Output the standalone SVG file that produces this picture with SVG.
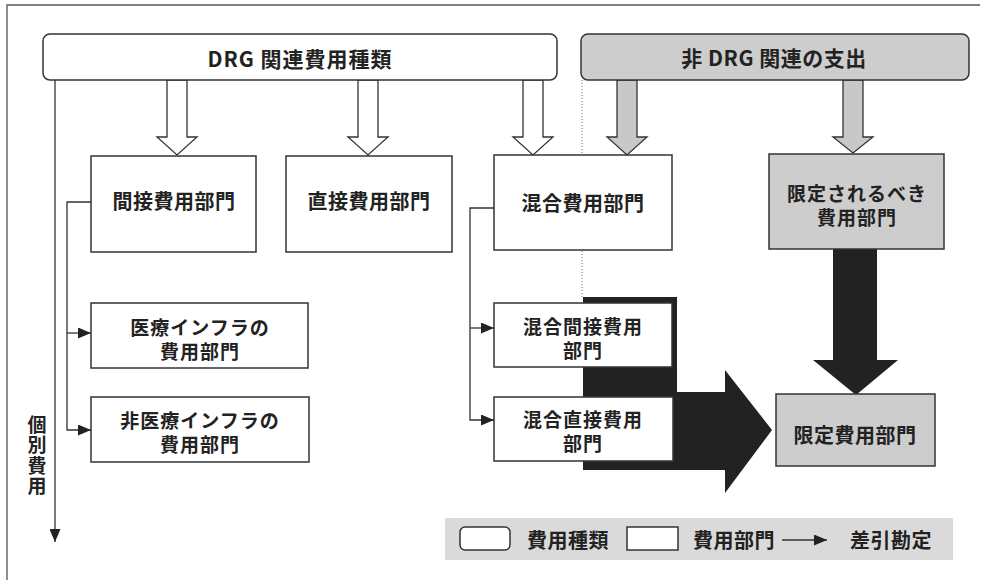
<svg xmlns="http://www.w3.org/2000/svg" width="982" height="580" viewBox="0 0 982 580">
<defs>
<style>
.t{font-family:"Noto Sans CJK JP","Noto Sans",sans-serif;font-weight:bold;font-size:20px;letter-spacing:0.5px;fill:#222;text-anchor:middle;dominant-baseline:central}
.t2{font-size:19px;letter-spacing:1px}
.box{fill:#fff;stroke:#333;stroke-width:1.5}
.gbox{fill:#cdcdcd;stroke:#333;stroke-width:1.5}
.ha{fill:#fff;stroke:#333;stroke-width:1.3}
.ga{fill:#c8c8c8;stroke:#333;stroke-width:1.3}
.ln{fill:none;stroke:#333;stroke-width:1.3}
</style>
<marker id="ah" viewBox="0 0 13 11" refX="13" refY="5.5" markerWidth="13" markerHeight="11" markerUnits="userSpaceOnUse" orient="auto">
<path d="M0,0 L13,5.5 L0,11 Z" fill="#222"/>
</marker>
</defs>
<rect width="982" height="580" fill="#fff"/>
<path d="M7,580 V5 H980" fill="none" stroke="#555" stroke-width="1.3"/>
<line x1="582" y1="80" x2="582" y2="297" stroke="#777" stroke-width="1" stroke-dasharray="1,2"/>
<g id="black-arrows">
<polygon points="583,297 677,297 677,392 725,392 725,370 772,430 725,493 725,470 583,470" fill="#222"/>
<polygon points="833,249 877,249 877,360 898,360 856,395 813,360 833,360" fill="#222"/>
</g>
<g id="type-arrows">
<polygon class="ha" points="167,80 167,137 157,137 177,155 197,137 187,137 187,80"/>
<polygon class="ha" points="358,80 358,137 348,137 368,155 388,137 378,137 378,80"/>
<polygon class="ha" points="523,80 523,137 513,137 533,155 553,137 543,137 543,80"/>
<polygon class="ga" points="617,80 617,137 607,137 627,155 647,137 637,137 637,80"/>
<polygon class="ga" points="843,80 843,137 833,137 853,153 873,137 863,137 863,80"/>
</g>
<g id="drg">
<rect class="box" x="43" y="34" width="514" height="46" rx="7"/>
<text class="t" x="300" y="58" style="font-size:21px;letter-spacing:1px">DRG 関連費用種類</text>
</g>
<g id="nondrg">
<rect class="gbox" x="581" y="34" width="388" height="46" rx="7"/>
<text class="t" x="774" y="57" style="font-size:21px;letter-spacing:0.5px">非 DRG 関連の支出</text>
</g>
<g id="indirect">
<rect class="box" x="91" y="156" width="165" height="96"/>
<text class="t" x="174" y="200">間接費用部門</text>
</g>
<g id="direct">
<rect class="box" x="286" y="156" width="166" height="96"/>
<text class="t" x="369" y="200">直接費用部門</text>
</g>
<g id="mixed">
<rect class="box" x="494" y="155" width="178" height="95"/>
<text class="t" x="583" y="202">混合費用部門</text>
</g>
<g id="tobelimited">
<rect class="gbox" x="769" y="154" width="175" height="95"/>
<text class="t t2" x="857" y="192">限定されるべき<tspan x="857" dy="24">費用部門</tspan></text>
</g>
<g id="medinfra">
<rect class="box" x="91" y="303" width="217" height="65"/>
<text class="t t2" x="200" y="326">医療インフラの<tspan x="200" dy="24">費用部門</tspan></text>
</g>
<g id="nonmedinfra">
<rect class="box" x="91" y="397" width="218" height="65"/>
<text class="t t2" x="200" y="419">非医療インフラの<tspan x="200" dy="24">費用部門</tspan></text>
</g>
<g id="mixedindirect">
<rect class="box" x="494" y="303" width="178" height="64"/>
<text class="t t2" x="583" y="325">混合間接費用<tspan x="583" dy="24">部門</tspan></text>
</g>
<g id="mixeddirect">
<rect class="box" x="494" y="397" width="179" height="64"/>
<text class="t t2" x="583" y="418">混合直接費用<tspan x="583" dy="24">部門</tspan></text>
</g>
<g id="limited">
<rect class="gbox" x="776" y="394" width="159" height="72"/>
<text class="t" x="855" y="434">限定費用部門</text>
</g>
<g id="connectors">
<path class="ln" d="M55,80 V542" marker-end="url(#ah)"/>
<path class="ln" d="M91,202 H67 V430 H91" marker-end="url(#ah)"/>
<path class="ln" d="M67,333 H91" marker-end="url(#ah)"/>
<path class="ln" d="M494,208 H470 V420 H494" marker-end="url(#ah)"/>
<path class="ln" d="M470,328 H494" marker-end="url(#ah)"/>
</g>
<g id="individual-label">
<text x="37" y="415" style="font-family:'Noto Sans CJK JP','Noto Sans',sans-serif;font-weight:bold;font-size:19px;fill:#222;writing-mode:vertical-rl;letter-spacing:1.5px">個別費用</text>
</g>
<g id="legend">
<rect x="445" y="518" width="508" height="42" fill="#dadada"/>
<rect class="box" x="460" y="527" width="50" height="23" rx="5"/>
<text class="t" x="568" y="539">費用種類</text>
<rect class="box" x="627" y="527" width="51" height="23"/>
<text class="t" x="734" y="539">費用部門</text>
<path class="ln" d="M782,540 H827" marker-end="url(#ah)"/>
<text class="t" x="891" y="539">差引勘定</text>
</g>
</svg>
